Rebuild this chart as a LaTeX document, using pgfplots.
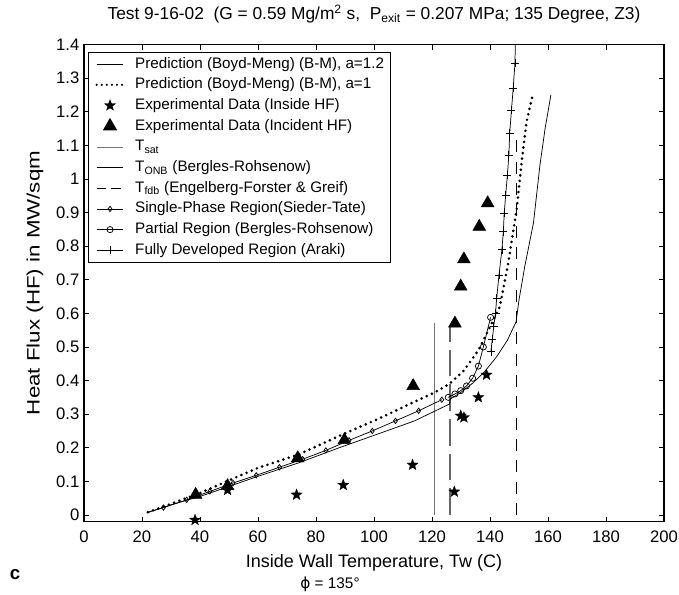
\documentclass[border=0pt]{standalone}
\usepackage{pgfplots}
\pgfplotsset{compat=1.18}
\usepackage{fontspec}
\setmainfont{Liberation Sans}
\newfontfamily\dejavu{DejaVu Sans}

\pgfdeclareplotmark{fstar}{%
  \pgfpathmoveto{\pgfpointpolar{90}{\pgfplotmarksize}}%
  \pgfpathlineto{\pgfpointpolar{126}{0.42\pgfplotmarksize}}%
  \pgfpathlineto{\pgfpointpolar{162}{\pgfplotmarksize}}%
  \pgfpathlineto{\pgfpointpolar{198}{0.42\pgfplotmarksize}}%
  \pgfpathlineto{\pgfpointpolar{234}{\pgfplotmarksize}}%
  \pgfpathlineto{\pgfpointpolar{270}{0.42\pgfplotmarksize}}%
  \pgfpathlineto{\pgfpointpolar{306}{\pgfplotmarksize}}%
  \pgfpathlineto{\pgfpointpolar{342}{0.42\pgfplotmarksize}}%
  \pgfpathlineto{\pgfpointpolar{18}{\pgfplotmarksize}}%
  \pgfpathlineto{\pgfpointpolar{54}{0.42\pgfplotmarksize}}%
  \pgfpathclose
  \pgfusepathqfillstroke}

\tikzset{
  dotcurve/.style={black, line width=2.2pt, line cap=round, dash pattern=on 0pt off 4.2pt},
  thincurve/.style={black, line width=0.55pt},
}

\begin{document}
\begin{tikzpicture}
\useasboundingbox (-63pt,-55pt) rectangle (446.25pt,391.25pt);
\begin{axis}[
  at={(0,0)}, anchor=south west,
  scale only axis, width=435pt, height=357.8pt,
  xmin=0, xmax=200, ymin=-0.02, ymax=1.4,
  xtick={0,20,40,60,80,100,120,140,160,180,200},
  ytick={0,0.1,0.2,0.3,0.4,0.5,0.6,0.7,0.8,0.9,1,1.1,1.2,1.3,1.4},
  yticklabel style={/pgf/number format/.cd, fixed, precision=1},
  xticklabel style={yshift=-3pt},
  /pgf/number format/assume math mode=true,
  tick label style={font=\fontsize{12.5}{14}\selectfont},
  tick align=inside,
  major tick length=3.75pt,
  every tick/.style={black, line width=0.6pt},
  axis line style={line width=1.2pt, black},
  tick pos=both,
  xticklabel pos=bottom, yticklabel pos=left,
  legend cell align=left,
  legend style={
    at={(0.0074,0.985)}, anchor=north west,
    draw=black, line width=0.8pt, fill=white,
    font=\fontsize{11.4}{13}\selectfont,
    nodes={inner sep=0pt, text height=8.4pt, text depth=2.4pt},
    row sep=4.7pt, column sep=8pt,
    inner xsep=5pt, inner ysep=3.5pt,
  },
  legend image code/.code={%
    \draw[mark repeat=2,mark phase=2,#1] plot coordinates {(0pt,0pt) (10pt,0pt) (20pt,0pt)};
  },
  clip=true,
]

% legend images
\addlegendimage{thincurve}
\addlegendentry{Prediction (Boyd-Meng) (B-M), a=1.2}
\addlegendimage{dotcurve, line width=1.8pt, dash pattern=on 0pt off 3.8pt}
\addlegendentry{Prediction (Boyd-Meng) (B-M), a=1}
\addlegendimage{only marks, mark=fstar, mark size=4.4pt, mark options={fill=black, draw=black, line width=0.2pt, solid}}
\addlegendentry{Experimental Data (Inside HF)}
\addlegendimage{only marks, mark=triangle*, mark size=5.5pt, mark options={fill=black, draw=black, solid}}
\addlegendentry{Experimental Data (Incident HF)}
\addlegendimage{black!55, line width=0.6pt}
\addlegendentry{T\textsubscript{sat}}
\addlegendimage{black, line width=0.6pt}
\addlegendentry{T\textsubscript{ONB} (Bergles-Rohsenow)}
\addlegendimage{black, line width=0.6pt, dash pattern=on 7pt off 4pt}
\addlegendentry{T\textsubscript{fdb} (Engelberg-Forster \& Greif)}
\addlegendimage{thincurve, mark=diamond, mark size=2pt, mark options={solid, fill=white}}
\addlegendentry{Single-Phase Region(Sieder-Tate)}
\addlegendimage{thincurve, mark=o, mark size=2.3pt, mark options={solid}}
\addlegendentry{Partial Region (Bergles-Rohsenow)}
\addlegendimage{thincurve, mark=+, mark size=3pt, mark options={solid}}
\addlegendentry{Fully Developed Region (Araki)}

% vertical reference lines
\addplot[forget plot, black!55, line width=0.7pt] coordinates {(121,0) (121,0.571)};
\addplot[forget plot, black!60, line width=0.8pt, dash pattern=on 20pt off 6pt] coordinates {(126.2,0) (126.2,0.56)};
\addplot[forget plot, black, line width=0.6pt, dash pattern=on 9pt off 7pt] coordinates {(149.2,0) (149.2,1.137)};

% prediction a=1.2
\addplot[forget plot, thincurve] coordinates {
(22,0.007) (30,0.03) (40,0.055) (50,0.085) (60,0.115) (74,0.155) (88,0.2)
(102,0.243) (114,0.28) (120,0.305) (126,0.33) (126.3,0.345) (130,0.365)
(134,0.392) (138,0.425) (142.3,0.471) (146,0.52) (149,0.575) (150,0.64)
(152,0.74) (155,0.87) (157.2,1.04) (159,1.15) (161,1.25)};

% prediction a=1
\addplot[forget plot, dotcurve] coordinates {
(22,0.008) (30,0.033) (40,0.065) (50,0.103) (60,0.14) (74,0.18) (88,0.235)
(102,0.288) (114,0.337) (121,0.365) (126,0.39) (131,0.43) (136,0.49)
(140,0.56) (143.4,0.62) (146.3,0.75) (149.2,0.91) (150.9,1.05) (152.6,1.17) (154.7,1.25)};

% single-phase (Sieder-Tate)
\addplot[forget plot, thincurve, mark=diamond, mark size=2pt, mark options={solid, fill=white}, mark indices={2,...,14}] coordinates {
(22,0.008) (27.4,0.022) (35.4,0.045) (43.4,0.07) (51.4,0.095) (59.4,0.118)
(67.4,0.142) (75.4,0.166) (83.4,0.192) (91.4,0.222) (99.4,0.25) (107.4,0.28)
(115.4,0.31) (123.4,0.343)};

% partial region (Bergles-Rohsenow)
\addplot[forget plot, thincurve, mark=o, mark size=2.3pt] coordinates {
(125.6,0.35) (127.9,0.36) (129.9,0.37) (131.9,0.384) (134,0.407) (136,0.443)
(137.7,0.50) (140.2,0.588)};

% fully developed (Araki)
\addplot[forget plot, thincurve, mark=+, mark size=3pt, mark indices={1,...,16}] coordinates {
(140.3,0.486) (140.8,0.523) (141.3,0.562) (141.9,0.60) (142.3,0.645) (143.1,0.714)
(144.1,0.789) (144.6,0.843) (144.9,0.898) (145.4,0.952) (146.0,1.012) (146.5,1.071)
(146.8,1.137) (147.4,1.205) (148.0,1.27) (148.6,1.344) (148.8,1.42)};

% experimental inside HF (stars)
\addplot[forget plot, only marks, mark=fstar, mark size=4.4pt, mark options={fill=black, draw=black, line width=0.2pt}] coordinates {
(38.3,-0.015) (49.5,0.074) (73.3,0.06) (89.4,0.089) (113.3,0.149) (127.7,0.069)
(129.9,0.295) (131,0.29) (136,0.35) (138.8,0.417)};

% experimental incident HF (triangles)
\addplot[forget plot, only marks, mark=triangle*, mark size=5.5pt, mark options={fill=black, draw=black}] coordinates {
(38.5,0.06) (49.5,0.086) (73.7,0.169) (89.8,0.223) (113.5,0.384) (127.9,0.57)
(129.9,0.68) (131,0.761) (136.3,0.858) (139.2,0.928)};

\end{axis}

\node[anchor=base, font=\fontsize{13}{15}\selectfont] at (217.5pt,376.6pt)
  {Test 9-16-02\ \ (G = 0.59 Mg/m\textsuperscript{2} s,\ \ P\textsubscript{exit} = 0.207 MPa; 135 Degree, Z3)};
\node[anchor=base, font=\fontsize{13.5}{15}\selectfont] at (217.5pt,-34.5pt)
  {Inside Wall Temperature, Tw (C)};
\node[rotate=90, font=\fontsize{13.5}{15}\selectfont] at (-36.75pt,179pt)
  {\scalebox{1.24}[1]{Heat Flux (HF) in MW/sqm}};
\node[anchor=base, font=\fontsize{14}{16}\selectfont\bfseries] at (-51.75pt,-43.5pt) {c};
\node[anchor=base, font=\fontsize{11.5}{13}\selectfont] at (184.5pt,-50.5pt) {{\dejavu ϕ} = 135°};
\end{tikzpicture}
\end{document}
